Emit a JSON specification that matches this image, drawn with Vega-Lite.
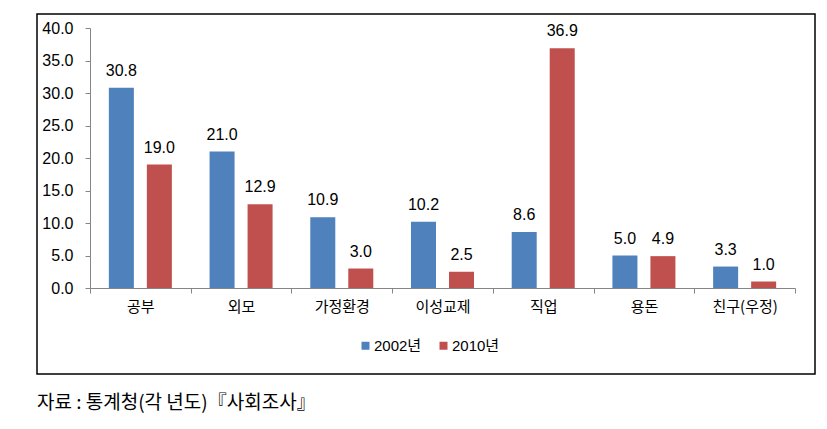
{
  "$schema": "https://vega.github.io/schema/vega-lite/v6.json",
  "width": 778,
  "height": 360,
  "autosize": {"type": "none"},
  "padding": {"left": 37, "top": 14, "right": 12, "bottom": 55},
  "background": "#ffffff",
  "config": {
    "view": {"stroke": "#000000", "strokeWidth": 1.5},
    "font": "Liberation Sans, Noto Sans CJK KR"
  },
  "title": {
    "text": "자료 : 통계청(각 년도)『사회조사』",
    "orient": "bottom",
    "anchor": "start",
    "frame": "group",
    "font": "Noto Sans CJK KR",
    "fontSize": 19,
    "fontWeight": "normal",
    "color": "#000000",
    "offset": 20,
    "baseline": "top"
  },
  "data": {
    "values": [
      {"cat": "공부", "year": "2002년", "value": 30.8},
      {"cat": "공부", "year": "2010년", "value": 19.0},
      {"cat": "외모", "year": "2002년", "value": 21.0},
      {"cat": "외모", "year": "2010년", "value": 12.9},
      {"cat": "가정환경", "year": "2002년", "value": 10.9},
      {"cat": "가정환경", "year": "2010년", "value": 3.0},
      {"cat": "이성교제", "year": "2002년", "value": 10.2},
      {"cat": "이성교제", "year": "2010년", "value": 2.5},
      {"cat": "직업", "year": "2002년", "value": 8.6},
      {"cat": "직업", "year": "2010년", "value": 36.9},
      {"cat": "용돈", "year": "2002년", "value": 5.0},
      {"cat": "용돈", "year": "2010년", "value": 4.9},
      {"cat": "친구(우정)", "year": "2002년", "value": 3.3},
      {"cat": "친구(우정)", "year": "2010년", "value": 1.0}
    ]
  },
  "encoding": {
    "x": {
      "field": "cat",
      "type": "nominal",
      "sort": null,
      "scale": {"range": [53, 758], "paddingInner": 0, "paddingOuter": 0},
      "axis": {
        "orient": "bottom",
        "offset": -86,
        "title": null,
        "tickBand": "extent",
        "tickSize": 5,
        "tickColor": "#868686",
        "domainColor": "#868686",
        "labelAngle": 0,
        "labelFont": "Noto Sans CJK KR",
        "labelFontSize": 15,
        "labelColor": "#000000",
        "labelPadding": 6
      }
    },
    "xOffset": {
      "field": "year",
      "type": "nominal",
      "scale": {"paddingInner": 0.342, "paddingOuter": 0.496}
    },
    "y": {
      "field": "value",
      "type": "quantitative",
      "scale": {"domain": [0, 40], "range": [274, 14]},
      "axis": {
        "orient": "left",
        "offset": -53,
        "title": null,
        "values": [0, 5, 10, 15, 20, 25, 30, 35, 40],
        "format": ".1f",
        "grid": false,
        "tickSize": 5,
        "tickColor": "#868686",
        "domainColor": "#868686",
        "labelFont": "Liberation Sans",
        "labelFontSize": 16,
        "labelColor": "#000000",
        "labelPadding": 12
      }
    }
  },
  "layer": [
    {
      "mark": {"type": "bar"},
      "encoding": {
        "color": {
          "field": "year",
          "type": "nominal",
          "scale": {"domain": ["2002년", "2010년"], "range": ["#4F81BD", "#C0504D"]},
          "legend": {
            "orient": "none",
            "legendX": 321,
            "legendY": 324,
            "direction": "horizontal",
            "title": null,
            "symbolType": "square",
            "symbolSize": 64,
            "symbolStrokeWidth": 0,
            "labelFont": "Liberation Sans, Noto Sans CJK KR",
            "labelFontSize": 15,
            "labelColor": "#000000",
            "labelOffset": 1,
            "columnPadding": 14
          }
        }
      }
    },
    {
      "mark": {
        "type": "text",
        "baseline": "bottom",
        "dy": -9,
        "font": "Liberation Sans",
        "fontSize": 16,
        "color": "#000000"
      },
      "encoding": {
        "text": {"field": "value", "type": "quantitative", "format": ".1f"}
      }
    }
  ]
}
